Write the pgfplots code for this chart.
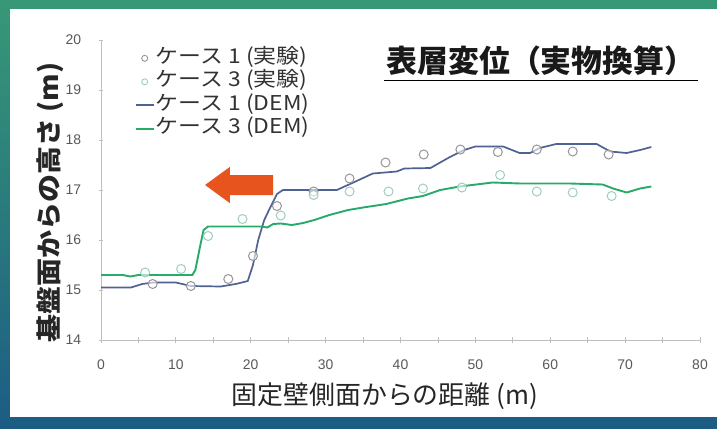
\documentclass[border=0pt]{standalone}
\usepackage{fontspec}
\setmainfont{Liberation Sans}
\newfontfamily\jp{Noto Sans CJK JP}
\newfontfamily\jpw[FakeStretch=1.12]{Noto Sans CJK JP}
\newfontfamily\jpy[FakeStretch=1.1]{Noto Sans CJK JP}
\usepackage{pgfplots}
\pgfplotsset{compat=1.18}
\definecolor{bgtop}{RGB}{55,152,118}
\definecolor{bgbot}{RGB}{28,92,132}
\definecolor{demone}{RGB}{80,98,148}
\definecolor{demthree}{RGB}{40,170,105}
\definecolor{expone}{RGB}{150,150,150}
\definecolor{expthree}{RGB}{160,205,195}
\definecolor{axgray}{RGB}{191,191,191}
\definecolor{tickcol}{RGB}{89,89,89}
\definecolor{legcol}{RGB}{50,50,50}
\definecolor{arrowcol}{RGB}{232,84,30}

\pgfplotstableread{
x y
0 15.05
4 15.05
5.5 15.12
7 15.15
10 15.15
12 15.08
16 15.07
18 15.12
19.6 15.18
20.3 15.5
21 16.0
21.8 16.4
22.6 16.65
23.5 16.92
24.3 17.0
31.5 17.0
34 17.17
36.3 17.33
39.5 17.37
40.5 17.43
44 17.44
46.6 17.66
48.5 17.8
50 17.87
53.7 17.87
55.9 17.74
57.3 17.74
58.6 17.84
60.8 17.92
66.2 17.92
68 17.77
70.2 17.74
72 17.8
73.5 17.86
}\demone

\pgfplotstableread{
x y
0 15.3
2.9 15.3
3.9 15.27
5 15.3
12.2 15.3
12.6 15.4
13.2 15.85
13.7 16.2
14.3 16.27
19 16.27
21.5 16.27
22.2 16.25
23 16.32
24 16.33
25.5 16.3
27 16.34
28.5 16.4
30.5 16.5
33 16.6
35 16.65
38.1 16.72
41 16.83
43 16.88
45.3 17.0
47.9 17.07
52.3 17.15
56 17.13
62.6 17.13
67 17.11
68.4 17.03
70.2 16.95
72 17.03
73.5 17.07
}\demthree

\pgfplotstableread{
x y
6.9 15.12
12.0 15.08
17.0 15.22
20.3 15.68
23.5 16.68
28.4 16.97
33.2 17.23
38.0 17.55
43.1 17.71
48.0 17.81
53.0 17.76
58.2 17.81
63.0 17.77
67.8 17.71
}\expone

\pgfplotstableread{
x y
5.9 15.35
10.7 15.42
14.3 16.08
18.9 16.42
24.0 16.49
28.4 16.9
33.2 16.97
38.4 16.97
43.0 17.03
48.2 17.05
53.3 17.3
58.2 16.97
63.0 16.95
68.2 16.88
}\expthree

\begin{document}
\begin{tikzpicture}
\shade[top color=bgtop, bottom color=bgbot] (0,0) rectangle (717bp,429bp);
\fill[white] (10bp,12bp) rectangle (717bp,420bp);
\begin{axis}[
  at={(101bp,89bp)}, anchor=south west, scale only axis,
  width=599bp, height=300bp,
  xmin=0, xmax=80, ymin=14, ymax=20,
  clip=false,
  axis x line=bottom, axis y line=left,
  axis line style={-, axgray, line width=0.8bp},
  xtick={0,10,...,80}, minor xtick={5,15,...,75}, ytick={14,15,...,20},
  tick style={axgray, line width=0.8bp},
  major tick length=5bp, minor tick length=5bp, tick align=center,
  /pgf/number format/assume math mode=true,
  ticklabel style={font=\fontsize{14}{16}\selectfont, text=tickcol},
  xticklabel style={anchor=center, yshift=-22bp},
  yticklabel style={anchor=center, xshift=-25bp},
  legend style={at={(rel axis cs:0.056,0.973)}, anchor=north west, draw=none, fill=none,
    inner sep=0pt, font=\jpw\fontsize{20.5}{24}\selectfont, text=legcol, row sep=3.5bp,
    nodes={inner sep=1bp, text height=14bp, text depth=4bp}},
  legend cell align=left,
  legend image code/.code={\draw[mark repeat=2,mark phase=2,#1] plot coordinates {(0bp,0bp) (9bp,0bp) (18bp,0bp)};},
]
\addlegendimage{only marks, mark=o, mark size=3bp, expone, line width=0.9bp}
\addlegendentry{ケース 1 (実験)}
\addlegendimage{only marks, mark=o, mark size=3bp, expthree, line width=0.9bp}
\addlegendentry{ケース 3 (実験)}

\addplot[demone, line width=1.7bp] table[x=x,y=y] {\demone};
\addlegendentry{ケース 1 (DEM)}
\addplot[demthree, line width=1.9bp] table[x=x,y=y] {\demthree};
\addlegendentry{ケース 3 (DEM)}

\addplot[only marks, mark=*, mark size=4.5bp, mark options={draw=expone, fill=white, fill opacity=0.6, line width=1bp}, forget plot] table[x=x,y=y] {\expone};
\addplot[only marks, mark=*, mark size=4.5bp, mark options={draw=expthree, fill=white, fill opacity=0.6, line width=1bp}, forget plot] table[x=x,y=y] {\expthree};

\fill[arrowcol] (axis cs:13.9,17.1) -- (axis cs:17.2,17.46) -- (axis cs:17.2,17.3) -- (axis cs:23.0,17.3) -- (axis cs:23.0,16.9) -- (axis cs:17.2,16.9) -- (axis cs:17.2,16.74) -- cycle;

\node[font=\jp\bfseries\fontsize{31}{36}\selectfont, text=black!90, anchor=center] at (axis cs:58.75,19.58) {表層変位（実物換算）};
\draw[black, line width=1.6bp] (axis cs:37.8,19.19) -- (axis cs:79.7,19.19);

\node[font=\jp\fontsize{26}{30}\selectfont, text=black!85, anchor=center] at (axis cs:37.9,12.88) {固定壁側面からの距離 (m)};
\node[font=\jpy\bfseries\fontsize{25.5}{30}\selectfont, text=black!85, anchor=center, rotate=90] at (axis cs:-6.81,16.75) {基盤面からの高さ (m)};
\end{axis}
\useasboundingbox (0,0) rectangle (717bp,429bp);
\end{tikzpicture}
\end{document}
